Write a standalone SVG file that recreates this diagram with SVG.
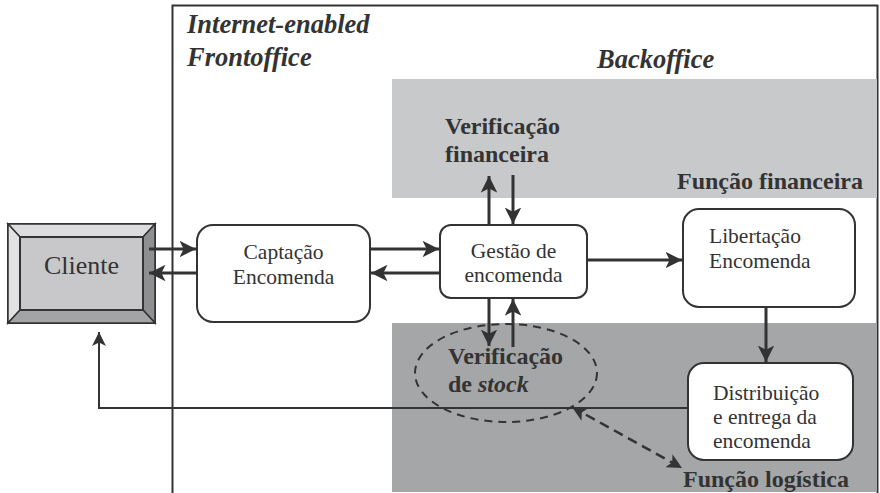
<svg xmlns="http://www.w3.org/2000/svg" width="880" height="493" viewBox="0 0 880 493">
<defs>
<style>
.t{font-family:"Liberation Serif","Times New Roman",serif;fill:#333;}
.n{font-size:21.5px;}
.b{font-size:24px;font-weight:bold;}
.bi{font-size:26.5px;font-weight:bold;font-style:italic;}
.box{fill:#fff;stroke:#333;stroke-width:2;}
.ln{stroke:#333;stroke-width:3;fill:none;}
.thin{stroke:#333;stroke-width:2;fill:none;}
.dash{stroke:#333;stroke-width:2;fill:none;stroke-dasharray:8 6;}
.dash2{stroke:#333;stroke-width:2.5;fill:none;stroke-dasharray:10 6;}
</style>
<marker id="ah" viewBox="0 0 10 10" refX="10" refY="5" markerWidth="5.5" markerHeight="5.5" markerUnits="strokeWidth" orient="auto">
<path d="M0,0 L10,5 L0,10 L2.5,5 z" fill="#333"/>
</marker>
<marker id="ah2" viewBox="0 0 10 10" refX="10" refY="5" markerWidth="7" markerHeight="7" markerUnits="strokeWidth" orient="auto">
<path d="M0,0 L10,5 L0,10 L2.5,5 z" fill="#333"/>
</marker>
<marker id="ahs" viewBox="0 0 10 10" refX="0" refY="5" markerWidth="6" markerHeight="6" markerUnits="strokeWidth" orient="auto">
<path d="M10,0 L0,5 L10,10 L7.5,5 z" fill="#333"/>
</marker>
<marker id="ahe" viewBox="0 0 10 10" refX="10" refY="5" markerWidth="6" markerHeight="6" markerUnits="strokeWidth" orient="auto">
<path d="M0,0 L10,5 L0,10 L2.5,5 z" fill="#333"/>
</marker>
</defs>
<rect width="880" height="493" fill="#fff"/>
<g id="frame">
<rect x="172.5" y="5.5" width="705" height="490" fill="#fff" stroke="#333" stroke-width="2"/>
<rect x="392" y="79" width="485" height="119" fill="#c8c9cb"/>
<rect x="392" y="323" width="485" height="169" fill="#a5a6a8"/>
<text class="t bi" x="187" y="33">Internet-enabled</text>
<text class="t bi" x="187" y="66">Frontoffice</text>
<text class="t bi" x="597" y="68">Backoffice</text>
<text class="t b" x="677" y="189">Função financeira</text>
<text class="t b" x="683" y="487">Função logística</text>
</g>
<g id="verif-financeira">
<text class="t b" x="445" y="134">Verificação</text>
<text class="t b" x="445" y="162">financeira</text>
</g>
<g id="verif-stock">
<ellipse cx="506" cy="373" rx="91" ry="49" class="dash"/>
<text class="t b" x="448" y="364">Verificação</text>
<text class="t b" x="448" y="392">de <tspan font-style="italic">stock</tspan></text>
</g>
<g id="cliente">
<rect x="8" y="224" width="147" height="99" fill="#c8c8ca" stroke="#333" stroke-width="2"/>
<polygon points="8,224 155,224 143,237 20,237" fill="#dcdcde" stroke="#333" stroke-width="1.5"/>
<polygon points="8,224 20,237 20,310 8,323" fill="#e2e2e4" stroke="#333" stroke-width="1.5"/>
<polygon points="155,224 155,323 143,310 143,237" fill="#8e8f91" stroke="#333" stroke-width="1.5"/>
<polygon points="8,323 20,310 143,310 155,323" fill="#a3a4a6" stroke="#333" stroke-width="1.5"/>
<rect x="20" y="237" width="123" height="73" fill="#c8c8ca" stroke="#333" stroke-width="2"/>
<text class="t" font-size="26" x="81.5" y="274" text-anchor="middle">Cliente</text>
</g>
<g id="captacao">
<rect x="197" y="225" width="173" height="97" rx="16" class="box"/>
<text class="t n" x="283.5" y="259" text-anchor="middle">Captação</text>
<text class="t n" x="283.5" y="284" text-anchor="middle">Encomenda</text>
</g>
<g id="gestao">
<rect x="440" y="225" width="147" height="73" rx="11" class="box"/>
<text class="t n" x="513.5" y="258" text-anchor="middle">Gestão de</text>
<text class="t n" x="513.5" y="282" text-anchor="middle">encomenda</text>
</g>
<g id="libertacao">
<rect x="683" y="209" width="172" height="98" rx="16" class="box"/>
<text class="t n" x="709" y="243">Libertação</text>
<text class="t n" x="709" y="268">Encomenda</text>
</g>
<g id="distribuicao">
<rect x="688" y="363" width="165" height="97" rx="16" class="box"/>
<text class="t n" x="713" y="400">Distribuição</text>
<text class="t n" x="713" y="424">e entrega da</text>
<text class="t n" x="713" y="448">encomenda</text>
</g>
<g id="connectors">
<line x1="149" y1="249" x2="196" y2="249" class="ln" marker-end="url(#ah)"/>
<line x1="197" y1="273" x2="149" y2="273" class="ln" marker-end="url(#ah)"/>
<line x1="370" y1="249" x2="439" y2="249" class="ln" marker-end="url(#ah)"/>
<line x1="440" y1="273" x2="371" y2="273" class="ln" marker-end="url(#ah)"/>
<line x1="489" y1="225" x2="489" y2="176" class="ln" marker-end="url(#ah)"/>
<line x1="513" y1="175" x2="513" y2="224" class="ln" marker-end="url(#ah)"/>
<line x1="489" y1="298" x2="489" y2="346" class="ln" marker-end="url(#ah)"/>
<line x1="513" y1="347" x2="513" y2="299" class="ln" marker-end="url(#ah)"/>
<line x1="587" y1="260" x2="682" y2="260" class="ln" marker-end="url(#ah)"/>
<line x1="766" y1="307" x2="766" y2="362" class="ln" marker-end="url(#ah)"/>
<polyline points="688,408 99,408 99,332" class="thin" marker-end="url(#ah2)"/>
<line x1="572" y1="407" x2="682" y2="468" class="dash2" marker-start="url(#ahs)" marker-end="url(#ahe)"/>
</g>
</svg>
